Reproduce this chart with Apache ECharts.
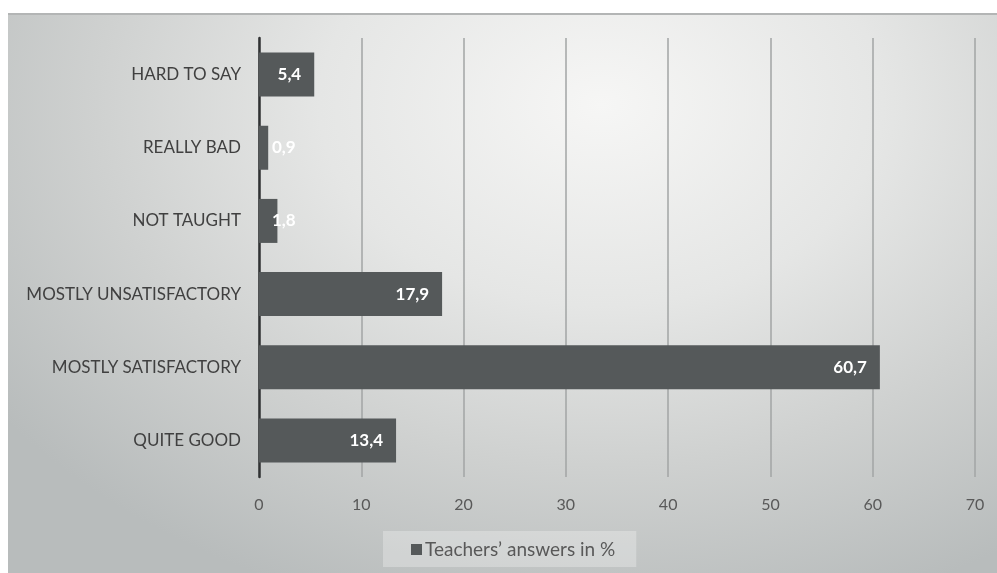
<!DOCTYPE html>
<html>
<head>
<meta charset="utf-8">
<script src="https://cdn.jsdelivr.net/npm/echarts@6/dist/echarts.min.js"></script>
<style>
  html, body { margin: 0; padding: 0; background: #ffffff; }
  #panel {
    position: absolute; left: 8px; top: 13px; width: 989px; height: 560px;
    border-top: 2px solid #b3b5b5;
    box-sizing: border-box;
    background: radial-gradient(ellipse 75% 95% at 60% 16%, #f6f6f5 0%, #e5e6e5 38%, #cfd1d0 68%, #b8bcbc 100%);
  }
  #chart { position: absolute; left: 0; top: 0; width: 997px; height: 573px; }
</style>
</head>
<body>
<div id="panel"></div>
<div id="chart"></div>
<script>
const categories = ['QUITE GOOD', 'MOSTLY SATISFACTORY', 'MOSTLY UNSATISFACTORY', 'NOT TAUGHT', 'REALLY BAD', 'HARD TO SAY'];
const values = [13.4, 60.7, 17.9, 1.8, 0.9, 5.4];
const seriesName = 'Teachers’ answers in %';
const xTicks = [0, 10, 20, 30, 40, 50, 60, 70];

const FONT = 'Lato, "Open Sans", sans-serif';
const chart = echarts.init(document.getElementById('chart'), null, { renderer: 'canvas' });

const data = values.map(v => {
  const item = { value: v };
  if (v < 3) {
    item.label = { position: 'insideLeft', distance: 13 };
  }
  return item;
});

chart.setOption({
  backgroundColor: 'transparent',
  animation: false,
  grid: { left: 259, right: 22, top: 38, bottom: 96, containLabel: false },
  legend: {
    show: true,
    bottom: 6,
    left: 383,
    itemWidth: 11,
    itemHeight: 11,
    itemGap: 10,
    padding: [9, 21, 8, 28],
    backgroundColor: 'rgba(255,255,255,0.28)',
    icon: 'rect',
    textStyle: { fontFamily: FONT, fontSize: 19, color: '#595959', padding: [0, 0, 0, -2] },
    data: [seriesName]
  },
  xAxis: {
    type: 'value',
    min: xTicks[0],
    max: xTicks[xTicks.length - 1],
    interval: 10,
    axisLine: { show: false },
    axisTick: { show: false },
    splitLine: { show: true, lineStyle: { color: '#a2a4a4', width: 1.5 } },
    axisLabel: { color: '#595959', fontFamily: FONT, fontSize: 16, margin: 20 }
  },
  yAxis: {
    type: 'category',
    data: categories,
    axisLine: { show: true, lineStyle: { color: '#303233', width: 2.5 } },
    axisTick: { show: false },
    splitLine: { show: false },
    axisLabel: { color: '#404040', fontFamily: FONT, fontSize: 17, margin: 18 }
  },
  series: [{
    name: seriesName,
    type: 'bar',
    data: data,
    barWidth: 44,
    itemStyle: { color: '#55595a' },
    label: {
      show: true,
      position: 'insideRight',
      distance: 13,
      color: '#ffffff',
      fontFamily: FONT,
      fontWeight: 'bold',
      fontSize: 17,
      formatter: p => String(p.value).replace('.', ',')
    }
  }]
});
</script>
</body>
</html>
